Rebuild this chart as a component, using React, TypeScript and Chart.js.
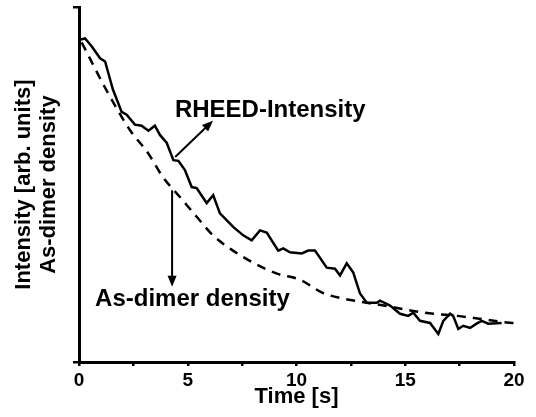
import React, { useEffect, useRef } from "react";
import { Chart, registerables } from "chart.js";

Chart.register(...registerables);

// Time [s]
const rheedTime = [0.08, 0.28, 0.58, 0.97, 1.2, 1.56, 1.96, 2.19, 2.57, 2.88, 3.19, 3.49, 3.72, 4.03, 4.34, 4.57, 4.87, 5.18, 5.41, 5.87, 6.17, 6.48, 7.1, 7.55, 7.94, 8.32, 8.63, 9.16, 9.39, 9.7, 10.24, 10.54, 10.85, 11.39, 11.77, 12.0, 12.31, 12.61, 12.92, 13.23, 13.69, 13.84, 14.3, 14.76, 15.14, 15.37, 15.68, 16.14, 16.52, 16.75, 17.06, 17.2, 17.44, 17.67, 17.98, 18.28, 18.51, 18.82, 19.43];
// RHEED intensity [arb. units]
const rheedIntensity = [0.909, 0.912, 0.89, 0.856, 0.847, 0.768, 0.705, 0.697, 0.669, 0.666, 0.652, 0.666, 0.64, 0.618, 0.569, 0.567, 0.541, 0.493, 0.49, 0.448, 0.47, 0.419, 0.38, 0.357, 0.343, 0.371, 0.365, 0.314, 0.32, 0.309, 0.306, 0.314, 0.314, 0.266, 0.263, 0.244, 0.278, 0.252, 0.193, 0.167, 0.167, 0.173, 0.159, 0.136, 0.13, 0.139, 0.116, 0.11, 0.079, 0.116, 0.136, 0.13, 0.093, 0.102, 0.096, 0.108, 0.116, 0.108, 0.11];

const dimerTime = [0.12, 0.64, 1.2, 2.34, 3.17, 3.86, 4.64, 5.43, 6.16, 7.08, 8.0, 9.1, 10.16, 11.2, 12.2, 13.24, 14.3, 15.36, 16.3, 17.4, 18.4, 19.45, 20.0];
const dimerDensity = [0.901, 0.839, 0.773, 0.654, 0.589, 0.521, 0.465, 0.408, 0.357, 0.314, 0.28, 0.249, 0.232, 0.195, 0.178, 0.167, 0.156, 0.144, 0.136, 0.13, 0.122, 0.113, 0.11];

const xTickLabels = ["0", "5", "10", "15", "20"];
const xTitle = "Time [s]";
const yTitle = ["Intensity [arb. units]", "As-dimer density"];

// annotations in data units: [label, text x, text baseline y, arrow from x, from y, to x, to y]
const rheedLabel = { text: "RHEED-Intensity", x: 4.41, y: 0.691, fromX: 4.42, fromY: 0.578, toX: 6.16, toY: 0.68 };
const dimerLabel = { text: "As-dimer density", x: 0.74, y: 0.159, fromX: 4.28, fromY: 0.484, toX: 4.28, toY: 0.212 };

const FONT = "'Liberation Sans', Arial, Helvetica, sans-serif";

function drawArrow(ctx: CanvasRenderingContext2D, x1: number, y1: number, x2: number, y2: number) {
  const ang = Math.atan2(y2 - y1, x2 - x1);
  const len = 11;
  const half = 4.5;
  ctx.beginPath();
  ctx.moveTo(x1, y1);
  ctx.lineTo(x2 - Math.cos(ang) * len * 0.8, y2 - Math.sin(ang) * len * 0.8);
  ctx.stroke();
  ctx.beginPath();
  ctx.moveTo(x2, y2);
  ctx.lineTo(x2 - Math.cos(ang) * len - Math.sin(ang) * half, y2 - Math.sin(ang) * len + Math.cos(ang) * half);
  ctx.lineTo(x2 - Math.cos(ang) * len + Math.sin(ang) * half, y2 - Math.sin(ang) * len - Math.cos(ang) * half);
  ctx.closePath();
  ctx.fill();
}

const annotationPlugin = {
  id: "annotations",
  afterDatasetsDraw(chart: any) {
    const { ctx, scales } = chart;
    const xs = scales.x;
    const ys = scales.y;
    ctx.save();
    ctx.fillStyle = "#000";
    ctx.strokeStyle = "#000";
    ctx.lineWidth = 2;
    ctx.font = `bold 24px ${FONT}`;
    ctx.textBaseline = "alphabetic";
    ctx.textAlign = "left";
    for (const a of [rheedLabel, dimerLabel]) {
      ctx.fillText(a.text, xs.getPixelForValue(a.x), ys.getPixelForValue(a.y));
      drawArrow(ctx, xs.getPixelForValue(a.fromX), ys.getPixelForValue(a.fromY), xs.getPixelForValue(a.toX), ys.getPixelForValue(a.toY));
    }
    ctx.restore();
  },
};

export default function App() {
  const ref = useRef<HTMLCanvasElement>(null);
  useEffect(() => {
    if (!ref.current) return;
    const chart = new Chart(ref.current, {
      type: "line",
      data: {
        datasets: [
          {
            label: "RHEED-Intensity",
            data: rheedTime.map((t, i) => ({ x: t, y: rheedIntensity[i] })),
            borderColor: "#000",
            borderWidth: 2.5,
            pointRadius: 0,
            tension: 0,
            fill: false,
          },
          {
            label: "As-dimer density",
            data: dimerTime.map((t, i) => ({ x: t, y: dimerDensity[i] })),
            borderColor: "#000",
            borderWidth: 2.5,
            borderDash: [9, 7],
            pointRadius: 0,
            cubicInterpolationMode: "monotone",
            fill: false,
          },
        ],
      },
      options: {
        responsive: false,
        animation: false,
        layout: { padding: { left: 0, right: 22, top: 7, bottom: 0 } },
        plugins: { legend: { display: false }, tooltip: { enabled: false } },
        scales: {
          x: {
            type: "linear",
            min: 0,
            max: 20,
            afterFit: (s: any) => {
              s.height = 55;
            },
            border: { display: true, color: "#000", width: 3 },
            grid: { drawOnChartArea: false, drawTicks: true, tickLength: 4, color: "#000", lineWidth: 2.5 },
            ticks: {
              stepSize: 2.5,
              autoSkip: false,
              maxRotation: 0,
              padding: 3,
              color: "#000",
              font: { family: FONT, size: 19, weight: "bold" },
              callback: (v: any) => {
                const i = xTickLabels.indexOf(String(v));
                return i >= 0 ? xTickLabels[i] : "";
              },
            },
            title: {
              display: true,
              text: xTitle,
              color: "#000",
              font: { family: FONT, size: 22, weight: "bold", lineHeight: 1.15 },
              padding: { top: 0, bottom: 7 },
            },
          },
          y: {
            type: "linear",
            min: 0,
            max: 1,
            afterFit: (s: any) => {
              s.width = 79;
            },
            border: { display: true, color: "#000", width: 3 },
            grid: { drawOnChartArea: false, drawTicks: true, tickLength: 6, color: "#000", lineWidth: 2.5 },
            ticks: { stepSize: 1, callback: () => "", padding: 0 },
            title: {
              display: true,
              text: yTitle,
              color: "#000",
              font: { family: FONT, size: 22, weight: "bold", lineHeight: 1.15 },
              padding: { top: 11, bottom: 0 },
            },
          },
        },
      },
      plugins: [annotationPlugin],
    } as any);
    return () => chart.destroy();
  }, []);
  return (
    <div style={{ position: "absolute", left: 0, top: 0, width: 536, height: 417, background: "#fff" }}>
      <canvas ref={ref} width={536} height={417} />
    </div>
  );
}
